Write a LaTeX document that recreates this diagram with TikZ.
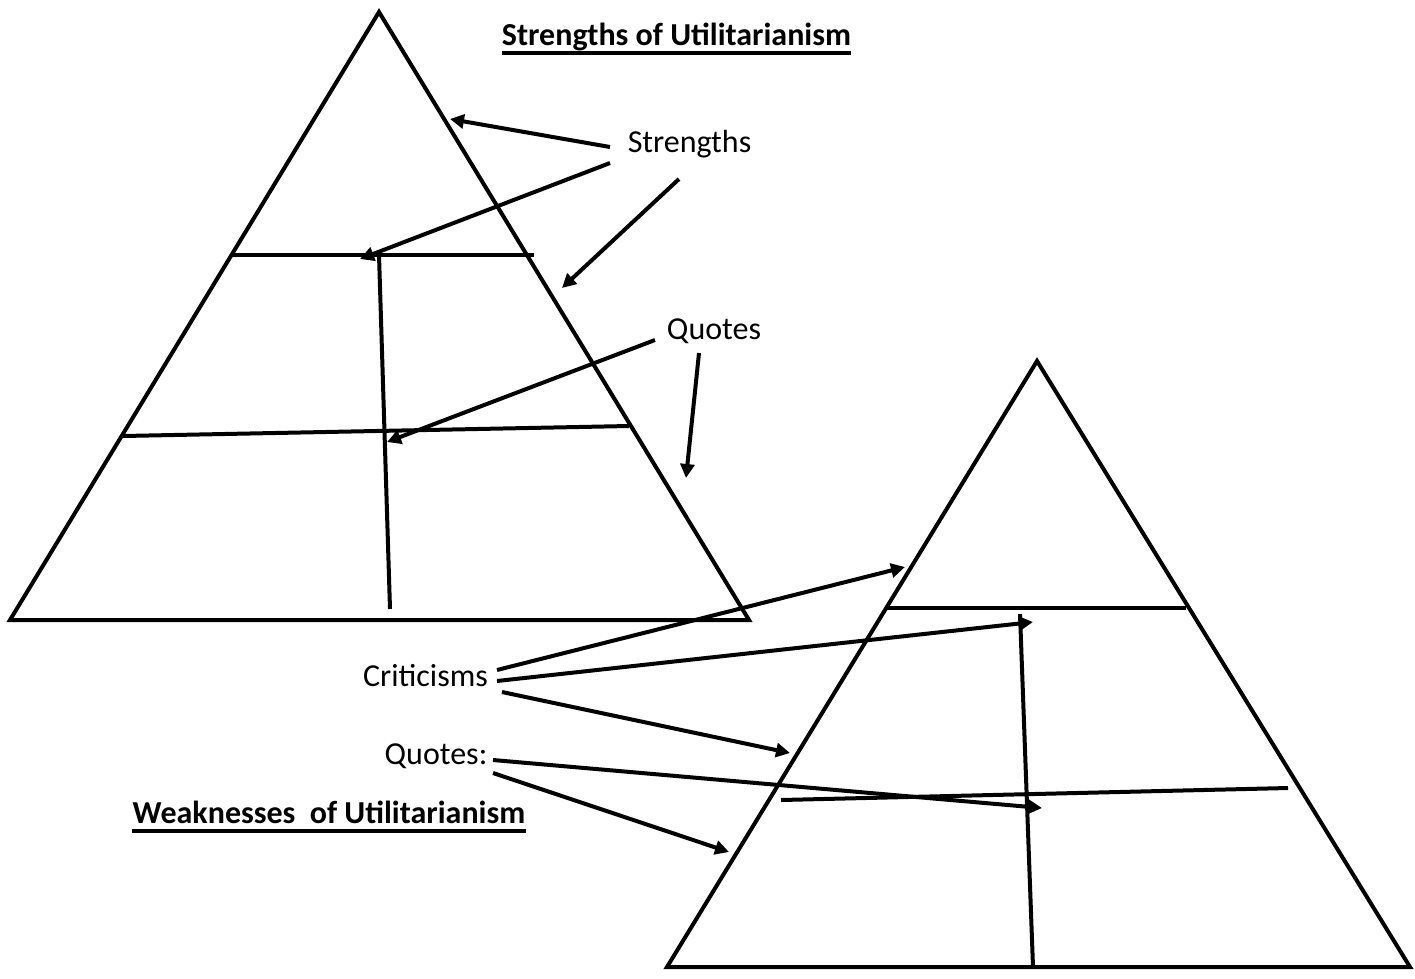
\documentclass[tikz,border=0pt]{standalone}
\usepackage{fontspec}
\setmainfont{Carlito}
\usetikzlibrary{arrows.meta}
\begin{document}
\begin{tikzpicture}[x=1pt,y=-1pt,
  edge/.style={line width=4pt,line cap=butt,line join=miter},
  arr/.style={line width=4pt,-{Triangle[length=14pt,width=14pt]}},
  uline/.style={line width=3.5pt},
  lbl/.style={font=\fontsize{32}{36}\selectfont,inner sep=0pt,anchor=base},
  ttl/.style={font=\fontsize{32}{36}\selectfont\bfseries,inner sep=0pt,anchor=base}]
\useasboundingbox[fill=white] (0,0) rectangle (1415,978);
% Triangle 1
\coordinate (A1) at (379,12);
\coordinate (B1) at (10,620);
\coordinate (C1) at (749,620);
\draw[edge] (A1) -- (B1) -- (C1) -- cycle;
\coordinate (h1a) at (232,255); \coordinate (h1b) at (534,255);
\coordinate (h2a) at (123,436); \coordinate (h2b) at (629,426);
\coordinate (v1a) at (379,255); \coordinate (v1b) at (390,609);
\draw[edge] (h1a) -- (h1b);
\draw[edge] (h2a) -- (h2b);
\draw[edge] (v1a) -- (v1b);
% Triangle 2
\coordinate (A2) at (1037,361);
\coordinate (B2) at (667,967);
\coordinate (C2) at (1410,967);
\draw[edge] (A2) -- (B2) -- (C2) -- cycle;
\coordinate (k1a) at (885,608); \coordinate (k1b) at (1186,608);
\coordinate (k2a) at (781,800); \coordinate (k2b) at (1288,788);
\coordinate (v2a) at (1020,614); \coordinate (v2b) at (1033,967);
\draw[edge] (k1a) -- (k1b);
\draw[edge] (k2a) -- (k2b);
\draw[edge] (v2a) -- (v2b);
% Titles
\node[ttl] (t1) at (676.5,45) {Strengths of Utilitarianism};
\draw[uline] (t1.west |- 0,53) -- (t1.east |- 0,53);
\node[ttl] (t2) at (329,823) {Weaknesses\ \ of Utilitarianism};
\draw[uline] (t2.west |- 0,831) -- (t2.east |- 0,831);
% Labels
\node[lbl] (str) at (689.5,152) {Strengths};
\node[lbl] (quo) at (714,339) {Quotes};
\node[lbl] (cri) at (425.5,686) {Criticisms};
\node[lbl] (quo2) at (436,764) {Quotes:};
% Arrow ends
\coordinate (s1s) at (610,147); \coordinate (s1e) at (450,119);
\coordinate (s2s) at (610,163); \coordinate (s2e) at (360,259);
\coordinate (s3s) at (679,179); \coordinate (s3e) at (562,288);
\coordinate (q1s) at (655,340); \coordinate (q1e) at (387,442);
\coordinate (q2s) at (699,353); \coordinate (q2e) at (686,478);
\coordinate (c1s) at (497,670); \coordinate (c1e) at (905,567);
\coordinate (c2s) at (497,681); \coordinate (c2e) at (1033,622);
\coordinate (c3s) at (502,692); \coordinate (c3e) at (790,753);
\coordinate (d1s) at (493,760); \coordinate (d1e) at (1042,808);
\coordinate (d2s) at (493,773); \coordinate (d2e) at (729,852);
\foreach \p in {s1,s2,s3,q1,q2,c1,c2,c3,d1,d2}
  \draw[arr] (\p s) -- (\p e);
\end{tikzpicture}
\end{document}
